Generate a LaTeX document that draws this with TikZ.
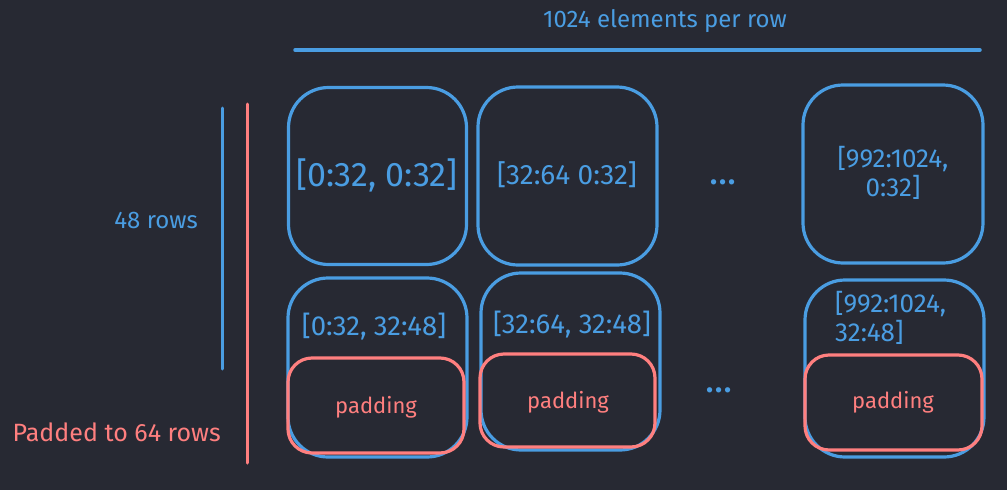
\documentclass[tikz,border=0pt]{standalone}
\usepackage{fontspec}
\setmainfont{Fira Sans}
\definecolor{bg}{HTML}{272933}
\definecolor{blu}{HTML}{4A9DE2}
\definecolor{rd}{HTML}{FF7F7F}
\begin{document}
\begin{tikzpicture}[x=1pt,y=-1pt,
  blubox/.style={draw=blu,line width=3.2pt,rounded corners=40pt,inner sep=0pt},
  padbox/.style={draw=rd,line width=3.2pt,rounded corners=24pt,inner sep=0pt},
  bt/.style={text=blu,inner sep=0pt,font=\fontsize{#1}{1.1\dimexpr#1pt\relax}\selectfont,align=center},
  rt/.style={text=rd,inner sep=0pt,font=\fontsize{#1}{#1}\selectfont,align=center},
  bline/.style={draw=blu,line width=3.5pt,line cap=round},
  rline/.style={draw=rd,line width=3pt,line cap=round}]
\fill[bg] (0,0) rectangle (1007,490);
\useasboundingbox (0,0) rectangle (1007,490);
% top annotation
\node[bt=24] (toplbl) at (665,21) {1024 elements per row};
\coordinate (tl) at (295,50);
\coordinate (tr) at (980,50);
\draw[bline] (tl) -- (tr);
% left annotations
\coordinate (b1) at (222,108);
\coordinate (b2) at (222,369);
\draw[bline,line width=3pt] (b1) -- (b2);
\coordinate (r1) at (247,104);
\coordinate (r2) at (247,463);
\draw[rline] (r1) -- (r2);
\node[bt=24,anchor=east] (rows48) at (198,220) {48 rows};
\node[rt=25,anchor=east] (rows64) at (221,432) {Padded to 64 rows};
% top row
\node[blubox,minimum width=178pt,minimum height=177pt] (A) at (377.5,176) {};
\node[bt=34] (At) at (377,175) {[0:32, 0:32]};
\node[blubox,minimum width=179pt,minimum height=178pt] (B) at (567.5,176) {};
\node[bt=28] (Bt) at (567,175) {[32:64 0:32]};
\node[bt=38] (dots1) at (723,182) {...};
\node[blubox,minimum width=180pt,minimum height=178pt] (C) at (893,174) {};
\node[bt=26] (Ct) at (893,173) {[992:1024,\\0:32]};
% bottom row
\node[blubox,minimum width=179pt,minimum height=179pt] (D) at (377.5,367.5) {};
\node[bt=27.5] (Dt) at (374,327) {[0:32, 32:48]};
\node[blubox,minimum width=179pt,minimum height=177pt] (E) at (570.5,361.5) {};
\node[bt=27.5] (Et) at (572,325) {[32:64, 32:48]};
\node[bt=38] (dots2) at (719,390) {...};
\node[blubox,minimum width=179pt,minimum height=177pt] (F) at (894.5,368.5) {};
\node[bt=26,align=left,anchor=north west] (Ft) at (835,291) {[992:1024,\\32:48]};
% padding
\node[padbox,minimum width=176pt,minimum height=95pt] (P1) at (376,405.5) {};
\node[rt=22] (P1t) at (376,407) {padding};
\node[padbox,minimum width=175pt,minimum height=93pt] (P2) at (567.5,400.5) {};
\node[rt=22] (P2t) at (568,402) {padding};
\node[padbox,minimum width=177pt,minimum height=95pt] (P3) at (893.5,402.5) {};
\node[rt=22] (P3t) at (893,402) {padding};
\end{tikzpicture}
\end{document}
